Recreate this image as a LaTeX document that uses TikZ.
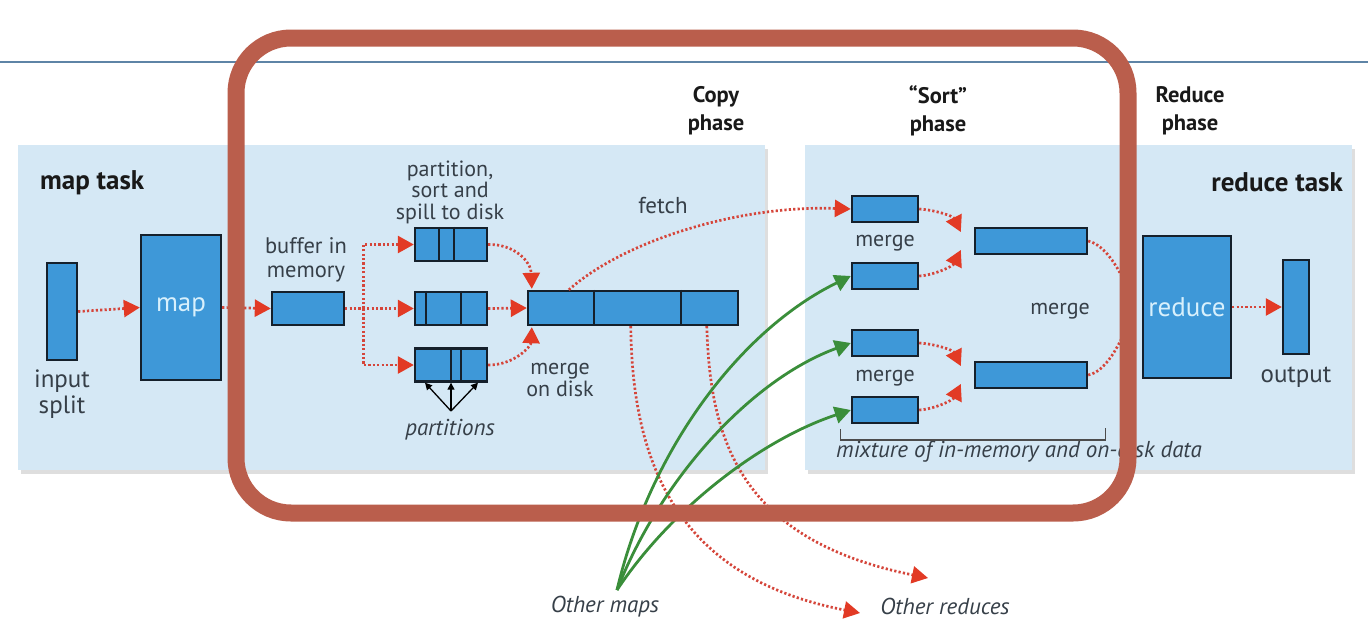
\documentclass[tikz,border=0pt]{standalone}
\usepackage{fontspec}
\setmainfont{PT Sans}
\usetikzlibrary{arrows.meta,calc,shadows}
\definecolor{panelc}{HTML}{D5E8F5}
\definecolor{boxblue}{HTML}{3E98D8}
\definecolor{boxline}{HTML}{15202B}
\definecolor{dotred}{HTML}{D5453A}
\definecolor{tipred}{HTML}{E23A25}
\definecolor{grn}{HTML}{3A8E3A}
\definecolor{bandc}{HTML}{BA5E4C}
\definecolor{rulec}{HTML}{5E84A6}
\definecolor{txt}{HTML}{363F48}
\definecolor{intxt}{HTML}{D8F0FC}
\begin{document}
\begin{tikzpicture}[x=1pt,y=-1pt,
  panel/.style={fill=panelc,inner sep=0pt,drop shadow={shadow xshift=3pt,shadow yshift=-4pt,fill=gray!50}},
  blk/.style={draw=boxline,line width=2.4pt,fill=boxblue,inner sep=0pt},
  lbl/.style={text=txt,font=\fontsize{22}{23}\selectfont,align=center,inner sep=0pt},
  hdr/.style={text=black!90,font=\bfseries\fontsize{22.5}{28}\selectfont,align=center,inner sep=0pt},
  bighdr/.style={text=black!90,font=\bfseries\fontsize{27}{28}\selectfont,inner sep=0pt},
  itl/.style={text=txt,font=\itshape\fontsize{23}{24}\selectfont,inner sep=0pt},
  intext/.style={text=intxt,font=\fontsize{27}{28}\selectfont},
  dotline/.style={dotred,line width=2.7pt,dash pattern=on 2.2pt off 2.2pt},
  dotarr/.style={dotline,-{Triangle[length=16pt,width=17pt,color=tipred]}},
  grnarr/.style={grn,line width=2.8pt,-{Triangle[length=16pt,width=17pt,color=grn]}},
  blkarr/.style={black,line width=1.3pt,-{Triangle[length=7pt,width=7pt]}},
  divl/.style={boxline,line width=2.4pt},
  brk/.style={black!70,line width=1.3pt}]
\useasboundingbox (0,0) rectangle (1368,624);
\fill[white] (0,0) rectangle (1368,624);
\draw[rulec,line width=2pt] (0,62) -- (1368,62);

% panels
\node[panel,minimum width=747pt,minimum height=325pt] (mappanel) at (391.5,307.5) {};
\node[panel,minimum width=547pt,minimum height=325pt] (redpanel) at (1078.5,307.5) {};

% headers
\node[bighdr,anchor=west] (maptask) at (40,183) {map task};
\node[bighdr,anchor=east] (redtask) at (1343,182) {reduce task};
\node[hdr] (copy) at (716,111) {Copy\\phase};
\node[hdr] (sort) at (938,111) {“Sort”\\phase};
\node[hdr] (redph) at (1190,111) {Reduce\\phase};

% map side boxes
\node[blk,minimum width=30pt,minimum height=97pt] (insplit) at (62,311.5) {};
\node[lbl,font=\fontsize{25}{26}\selectfont] (insplitl) at (62,394) {input\\split};
\node[blk,minimum width=80pt,minimum height=145pt,intext] (map) at (181,307.5) {map};
\node[blk,minimum width=72pt,minimum height=33pt] (buffer) at (308,308.5) {};
\node[lbl,font=\fontsize{22.5}{24}\selectfont] (bufferl) at (306,260) {buffer in\\memory};
\node[blk,minimum width=72pt,minimum height=33pt] (spill1) at (451,244.5) {};
\node[blk,minimum width=72pt,minimum height=33pt] (spill2) at (451,308.5) {};
\node[blk,minimum width=72pt,minimum height=33pt] (spill3) at (451,365) {};
\node[lbl,font=\fontsize{22}{21.5}\selectfont] (spilll) at (450,192) {partition,\\sort and\\spill to disk};
\draw[divl] ([xshift=25pt]spill1.north west) -- ([xshift=25pt]spill1.south west);
\draw[divl] ([xshift=40pt]spill1.north west) -- ([xshift=40pt]spill1.south west);
\draw[divl] ([xshift=12pt]spill2.north west) -- ([xshift=12pt]spill2.south west);
\draw[divl] ([xshift=47pt]spill2.north west) -- ([xshift=47pt]spill2.south west);
\draw[divl] ([xshift=37pt]spill3.north west) -- ([xshift=37pt]spill3.south west);
\draw[divl] ([xshift=47pt]spill3.north west) -- ([xshift=47pt]spill3.south west);
\node[blk,minimum width=210pt,minimum height=34pt] (mdisk) at (633,308) {};
\draw[divl] ([xshift=67pt]mdisk.north west) -- ([xshift=67pt]mdisk.south west);
\draw[divl] ([xshift=154pt]mdisk.north west) -- ([xshift=154pt]mdisk.south west);
\node[lbl,font=\fontsize{22}{20}\selectfont] (mdiskl) at (560,380) {merge\\on disk};
\node[lbl,font=\fontsize{23}{24}\selectfont] (fetch) at (663,206) {fetch};
\coordinate (papex) at (451,411);
\node[itl] (partl) at (450,430) {partitions};

% reduce side boxes
\node[blk,minimum width=66pt,minimum height=26pt] (s1) at (885,209) {};
\node[blk,minimum width=66pt,minimum height=26pt] (s2) at (885,276) {};
\node[blk,minimum width=66pt,minimum height=26pt] (s3) at (885,343) {};
\node[blk,minimum width=66pt,minimum height=26pt] (s4) at (885,410) {};
\node[lbl] (m1) at (885,243) {merge};
\node[lbl] (m2) at (885,378) {merge};
\node[blk,minimum width=112pt,minimum height=26pt] (big1) at (1031,241) {};
\node[blk,minimum width=112pt,minimum height=26pt] (big2) at (1031,375) {};
\node[lbl] (m3) at (1060,311) {merge};
\node[blk,minimum width=88pt,minimum height=142pt,intext] (reduce) at (1187,307) {reduce};
\node[blk,minimum width=26pt,minimum height=94pt] (output) at (1296,307) {};
\node[lbl,font=\fontsize{25}{26}\selectfont] (outputl) at (1296,377) {output};
\node[itl,anchor=west] (mixl) at (836,452) {mixture of in-memory and on-disk data};
\draw[brk] ($(s4.south west)+(-10,5)$) |- ($(big2.east)+(17,65)$) -- ++(0,-12);

% bottom labels
\coordinate (om) at (617,590);
\node[itl] (omaps) at (605,607) {Other maps};
\node[itl] (oreds) at (945,606) {Other reduces};
\coordinate (or1) at (860,613);
\coordinate (or2) at (928,578);

% connectors map side
\draw[dotarr] (insplit.east) -- (map.west);
\draw[dotarr] (map.east) -- (buffer.west);
\draw[dotline] (buffer.east) -- ++(18,0) coordinate (br);
\draw[dotarr] (br) |- (spill1.west);
\draw[dotarr] (br) |- (spill3.west);
\draw[dotarr] (buffer.east) -- (spill2.west);
\draw[dotarr] (spill1.east) .. controls (515,244) and (531,262) .. ($(mdisk.north west)+(5,-1)$);
\draw[dotarr] (spill2.east) -- (mdisk.west);
\draw[dotarr] (spill3.east) .. controls (515,365) and (531,346) .. ($(mdisk.south west)+(5,1)$);
\draw[blkarr] (papex) -- ([xshift=-26pt]spill3.south);
\draw[blkarr] (papex) -- (spill3.south);
\draw[blkarr] (papex) -- ([xshift=27pt]spill3.south);

% fetch and other reduces
\draw[dotarr] ([xshift=42pt]mdisk.north west) .. controls (625,240) and (740,205) .. (s1.west);
\draw[dotarr] ([xshift=104pt]mdisk.south west) .. controls (632,480) and (690,580) .. (or1);
\draw[dotarr] ([xshift=180pt]mdisk.south west) .. controls (710,440) and (740,540) .. (or2);

% green
\draw[grnarr] (om) .. controls (650,450) and (740,330) .. (s2.west);
\draw[grnarr] (om) .. controls (660,480) and (750,380) .. (s3.west);
\draw[grnarr] (om) .. controls (670,510) and (760,440) .. (s4.west);

% sort merges
\draw[dotarr] (s1.east) .. controls (935,210) and (953,216) .. ($(big1.west)+(-13,-9)$);
\draw[dotarr] (s2.east) .. controls (935,275) and (953,266) .. ($(big1.west)+(-13,9)$);
\draw[dotarr] (s3.east) .. controls (935,344) and (953,350) .. ($(big2.west)+(-13,-9)$);
\draw[dotarr] (s4.east) .. controls (935,409) and (953,400) .. ($(big2.west)+(-13,9)$);
\draw[dotline] (big1.east) .. controls (1105,245) and (1120,268) .. ($(reduce.west)+(-10,-8)$);
\draw[dotline] (big2.east) .. controls (1105,372) and (1120,346) .. ($(reduce.west)+(-10,8)$);
\draw[dotarr] (reduce.east) -- (output.west);

% highlight band
\draw[bandc,line width=17pt,rounded corners=55pt] (236,38) rectangle (1128,513);
\end{tikzpicture}
\end{document}
